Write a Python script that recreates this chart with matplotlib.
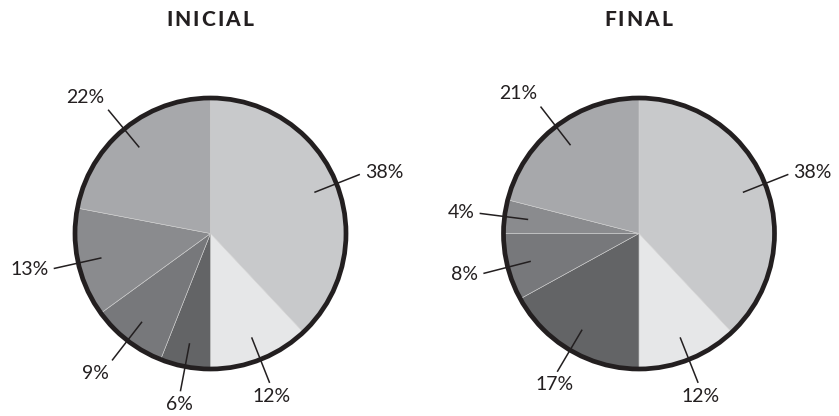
import matplotlib
matplotlib.use("Agg")
import matplotlib.pyplot as plt
import numpy as np
from matplotlib.patches import Circle

titles = ["INICIAL", "FINAL"]
inicial_values = [38, 12, 6, 9, 13, 22]
final_values = [38, 12, 17, 8, 4, 21]
slice_colors = ["#c8c9cb", "#e6e7e8", "#636466", "#77787b", "#8a8b8e", "#a7a8ab"]

W, H = 839, 416
fig = plt.figure(figsize=(W / 100, H / 100), dpi=100)
ax = fig.add_axes([0, 0, 1, 1])
ax.set_xlim(0, W)
ax.set_ylim(0, H)
renderer = fig.canvas.get_renderer()

centers = [(210.5, H - 233.5), (639.0, H - 233.5)]
R = 135.5
ink = "#231f20"


def spaced_title(cx, y, s, tracking=2.0, **kw):
    widths = []
    for ch in s:
        t = ax.text(0, 0, ch, **kw)
        widths.append(t.get_window_extent(renderer).width)
        t.remove()
    total = sum(widths) + tracking * (len(s) - 1)
    x = cx - total / 2
    for ch, w in zip(s, widths):
        ax.text(x, y, ch, ha="left", va="center", **kw)
        x += w + tracking


for (cx, cy), title, vals in zip(centers, titles, [inicial_values, final_values]):
    wedges, _ = ax.pie(vals, colors=slice_colors, startangle=90, counterclock=False,
                       center=(cx, cy), radius=R, frame=True,
                       wedgeprops=dict(edgecolor="#d0d0d0", linewidth=0.4))
    ax.add_patch(Circle((cx, cy), R, facecolor="none", edgecolor=ink, linewidth=3.4, zorder=5))
    for w, v in zip(wedges, vals):
        a = np.deg2rad((w.theta1 + w.theta2) / 2)
        d = np.array([np.cos(a), np.sin(a)])
        p0 = np.array([cx, cy]) + d * R * 0.83
        p1 = np.array([cx, cy]) + d * R * 1.18
        ax.plot([p0[0], p1[0]], [p0[1], p1[1]], color=ink, lw=1.1, zorder=6)
        ha = "left" if d[0] > 0.6 else ("right" if d[0] < -0.6 else "center")
        va = "bottom" if d[1] > 0.6 else ("top" if d[1] < -0.6 else "center")
        pt = p1 + d * 6
        ax.text(pt[0], pt[1], f"{v}%", ha=ha, va=va, fontsize=14,
                family="Lato", weight="normal", color=ink)
    spaced_title(cx - 1, H - 20, title, fontsize=15, family="Lato", weight="black", color=ink)

ax.set_xlim(0, W)
ax.set_ylim(0, H)
ax.set_aspect("auto")
ax.axis("off")
fig.savefig("out.png", dpi=100)
